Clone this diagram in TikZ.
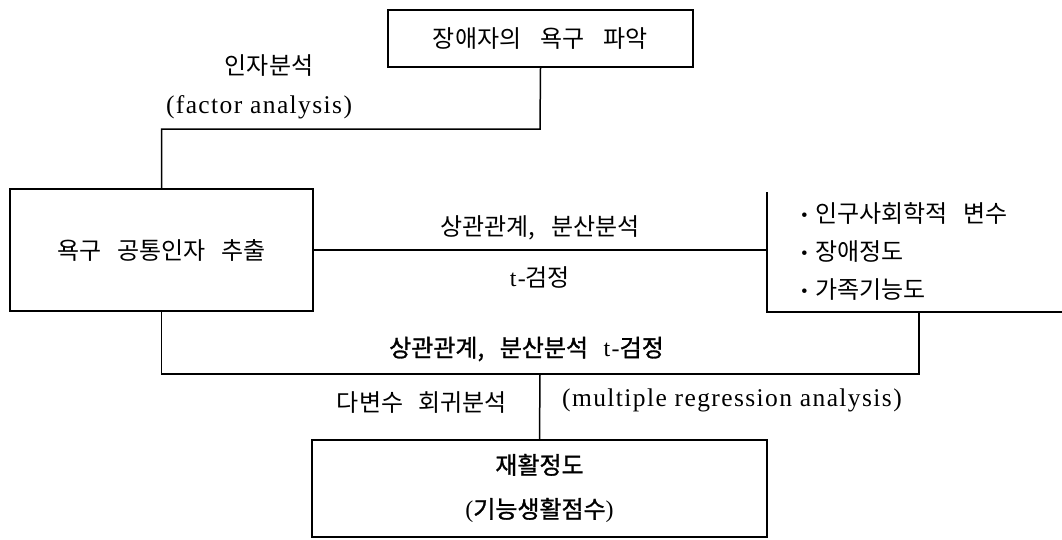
\documentclass[tikz,border=0pt]{standalone}
\usepackage{fontspec}
\setmainfont{Liberation Serif}
\newfontfamily\kr{Noto Sans CJK KR}
\newfontfamily\krb[FakeBold=1.2]{Noto Sans CJK KR}
\newfontfamily\lat[LetterSpace=5.5]{Liberation Serif}
\newcommand{\ks}{\hspace{0.65em}}
\newcommand{\bul}{\raisebox{1pt}{\lat\fontsize{19}{19}\selectfont •}\hspace{0.3em}}
\begin{document}
\begin{tikzpicture}[x=1pt,y=-1pt,
  box/.style={draw, line width=1.6pt, inner sep=0pt, align=center, font=\kr\fontsize{24}{44}\selectfont},
  lbl/.style={inner sep=0pt, font=\kr\fontsize{24}{26}\selectfont},
  lblb/.style={inner sep=0pt, font=\krb\fontsize{24}{26}\selectfont},
  ltx/.style={inner sep=0pt, font=\lat\fontsize{25.5}{28}\selectfont},
  conn/.style={line width=1.5pt},
]
\useasboundingbox (0,0) rectangle (1062,539);
% boxes
\node[box, minimum width=305pt, minimum height=57pt] (top) at (540.5,38.5) {장애자의\hspace{0.8em}욕구\hspace{0.8em}파악};
\node[box, minimum width=303pt, minimum height=122pt] (left) at (161.5,250) {욕구\ks 공통인자\ks 추출};
\node[box, minimum width=455pt, minimum height=97pt, font=\krb\fontsize{24}{44}\selectfont] (bot) at (539.5,488.5) {재활정도\\{\lat(}기능생활점수{\lat)}};
% variables group
\node[lbl, anchor=west] (v1) at (801,213) {\bul 인구사회학적\ks 변수};
\node[lbl, anchor=west] (v2) at (801,252) {\bul 장애정도};
\node[lbl, anchor=west] (v3) at (801,290) {\bul 가족기능도};
% junction coordinates
\coordinate (bt) at (767,192);
\coordinate (bm) at (767,250);
\coordinate (bb) at (767,312);
\coordinate (be) at (1062,312);
\coordinate (j1) at (540,129);
\coordinate (j2) at (919,312);
\coordinate (j3) at (919,374);
\coordinate (j4) at (540,374);
% connectors
\draw[conn] (top.south) -- (j1) -| (left.north);
\draw[conn] (left.east) -- (bm);
\draw[conn] (bt) -- (bb) -- (be);
\draw[conn] (left.south) |- (j3) -- (j2);
\draw[conn] (j4) -- (bot.north);
% labels
\node[lbl] (l1) at (269,66) {인자분석};
\node[ltx] (l2) at (259,107) {(factor analysis)};
\node[lbl] (l3) at (540,228) {상관관계,\ks 분산분석};
\node[lbl] (l4) at (540,277) {{\lat t-}검정};
\node[lblb, anchor=west] (l5) at (389,349) {상관관계,\ks 분산분석\ks{\lat t-}검정};
\node[lbl] (l6) at (422,403) {다변수\ks 회귀분석};
\node[ltx, anchor=west] (l7) at (562,400) {(multiple regression analysis)};
\end{tikzpicture}
\end{document}
